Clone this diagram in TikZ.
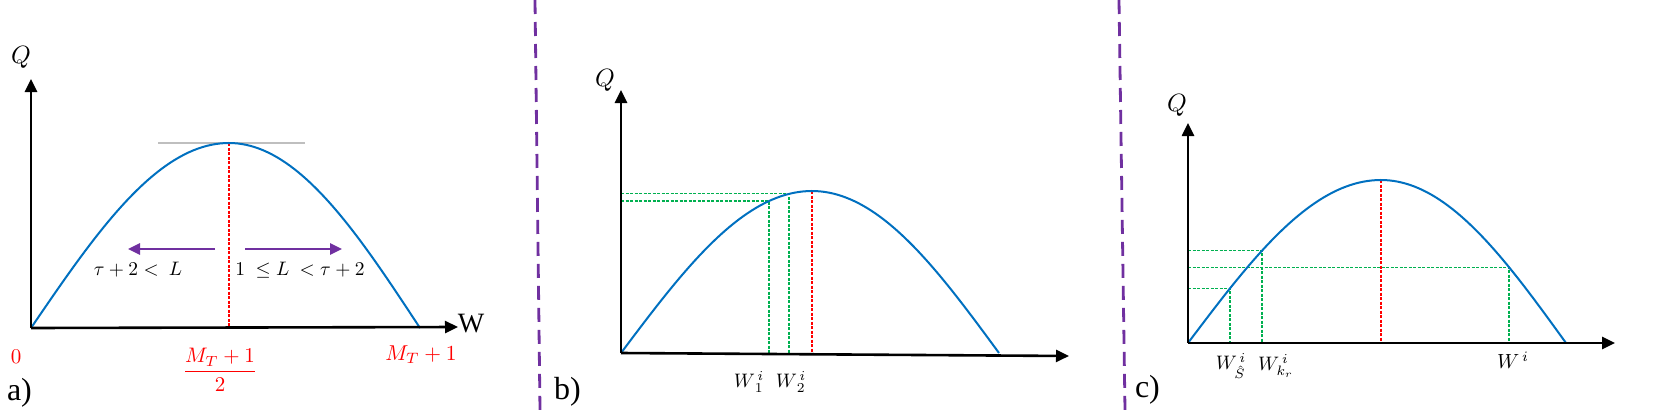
\documentclass[tikz,border=0pt]{standalone}
\usepackage{fontspec}
\setmainfont{Liberation Serif}
\usetikzlibrary{arrows.meta}
\definecolor{cblue}{HTML}{0070C0}
\definecolor{cpurple}{HTML}{7030A0}
\definecolor{cgreen}{HTML}{00B050}
\definecolor{cred}{HTML}{FF0000}
\definecolor{cgrey}{HTML}{BFBFBF}
\newcommand{\bigmath}[2]{\scalebox{#1}{$#2$}}
\tikzset{
  axisline/.style={line width=2.6pt, -{Triangle[length=13pt,width=12pt]}},
  curve/.style={cblue, line width=2pt},
  reddash/.style={cred, line width=1.3pt, dash pattern=on 3pt off 1.5pt},
  greendash/.style={cgreen, line width=1.1pt, dash pattern=on 3pt off 1.5pt},
  divider/.style={cpurple, line width=2.8pt, dash pattern=on 14pt off 8pt},
  parrow/.style={cpurple, line width=2.6pt, -{Triangle[length=12pt,width=11pt]}},
  tangent/.style={cgrey, line width=1.4pt},
  lbl/.style={inner sep=0pt, outer sep=0pt},
  redlbl/.style={lbl, text=cred},
  panellbl/.style={lbl, anchor=base west, font=\fontsize{32}{32}\selectfont},
}
\begin{document}
\begin{tikzpicture}[x=1pt,y=-1pt]
\useasboundingbox (0,0) rectangle (1660,410);

% dividers
\coordinate (d1t) at (535,0); \coordinate (d1b) at (540,410);
\coordinate (d2t) at (1119,0); \coordinate (d2b) at (1125,410);
\draw[divider] (d1t) -- (d1b);
\draw[divider] (d2t) -- (d2b);

% ---------------- panel a ----------------
\coordinate (oa) at (31,328);
\coordinate (ya) at (31,79);
\coordinate (xa) at (458,327);
\coordinate (pa) at (229,143);
\coordinate (pab) at (229,328);
\coordinate (tl) at (158,143); \coordinate (tr) at (305,143);
\draw[tangent] (tl) -- (tr);
\draw[reddash] (pa) -- (pab);
\draw[curve] plot[domain=0:90,samples=45] ({31+\x/90*198},{328-185*sin(\x)})
  -- plot[domain=90:180,samples=45] ({229+(\x-90)/90*191},{328-185*sin(\x)});
\draw[axisline] (oa) -- (ya);
\draw[axisline] (oa) -- (xa);
\coordinate (la0) at (215,249); \coordinate (la1) at (128,249);
\coordinate (ra0) at (245,249); \coordinate (ra1) at (342,249);
\draw[parrow] (la0) -- (la1);
\draw[parrow] (ra0) -- (ra1);
\node[lbl] (qa) at (21,57) {\bigmath{2.5}{Q}};
\node[lbl, font=\fontsize{28}{28}\selectfont] (wa) at (471,324) {W};
\node[lbl] (ta) at (138,270) {\bigmath{1.95}{\tau+2<\ L}};
\node[lbl] (tb) at (300,270) {\bigmath{1.95}{1\ \leq L\ <\tau+2}};
\node[redlbl] (zero) at (16,357) {\bigmath{2.1}{0}};
\node[redlbl] (half) at (220,370) {\bigmath{2.1}{\displaystyle\frac{M_T+1}{2}}};
\node[redlbl] (mt) at (421,355) {\bigmath{2.15}{M_T+1}};
\node[panellbl] (pla) at (7,400) {a)};

% ---------------- panel b ----------------
\coordinate (ob) at (621,353);
\coordinate (yb) at (621,90);
\coordinate (xb) at (1069,356);
\coordinate (pb) at (812,191);
\coordinate (pbb) at (812,354);
\coordinate (g1) at (769,{353-162*sin(148/191*90)});
\coordinate (g1y) at (621,{353-162*sin(148/191*90)});
\coordinate (g1x) at (769,354);
\coordinate (g2) at (789,{353-162*sin(168/191*90)});
\coordinate (g2y) at (621,{353-162*sin(168/191*90)});
\coordinate (g2x) at (789,354);
\draw[greendash] (g1y) -- (g1) -- (g1x);
\draw[greendash] (g2y) -- (g2) -- (g2x);
\draw[reddash] (pb) -- (pbb);
\draw[curve] plot[domain=0:90,samples=45] ({621+\x/90*191},{353-162*sin(\x)})
  -- plot[domain=90:180,samples=45] ({812+(\x-90)/90*187},{353-162*sin(\x)});
\draw[axisline] (ob) -- (yb);
\draw[axisline] (ob) -- (xb);
\node[lbl] (qb) at (605,80) {\bigmath{2.5}{Q}};
\node[lbl] (w1) at (749,382) {\bigmath{1.95}{W^{\,i}_{\,1}}};
\node[lbl] (w2) at (791,382) {\bigmath{1.95}{W^{\,i}_{\,2}}};
\node[panellbl] (plb) at (554,399) {b)};

% ---------------- panel c ----------------
\coordinate (oc) at (1188,343);
\coordinate (yc) at (1188,123);
\coordinate (xc) at (1615,343);
\coordinate (pc) at (1381,180);
\coordinate (pcb) at (1381,343);
\coordinate (h1) at (1230,{343-163*sin(42/193*90)});
\coordinate (h1y) at (1188,{343-163*sin(42/193*90)});
\coordinate (h1x) at (1230,343);
\coordinate (h2) at (1262,{343-163*sin(74/193*90)});
\coordinate (h2y) at (1188,{343-163*sin(74/193*90)});
\coordinate (h2x) at (1262,343);
\coordinate (h3) at (1509,{343-163*cos(128/185*90)});
\coordinate (h3y) at (1188,{343-163*cos(128/185*90)});
\coordinate (h3x) at (1509,343);
\draw[greendash] (h1y) -- (h1) -- (h1x);
\draw[greendash] (h2y) -- (h2) -- (h2x);
\draw[greendash] (h3y) -- (h3) -- (h3x);
\draw[reddash] (pc) -- (pcb);
\draw[curve] plot[domain=0:90,samples=45] ({1188+\x/90*193},{343-163*sin(\x)})
  -- plot[domain=90:180,samples=45] ({1381+(\x-90)/90*185},{343-163*sin(\x)});
\draw[axisline] (oc) -- (yc);
\draw[axisline] (oc) -- (xc);
\node[lbl] (qc) at (1177,105) {\bigmath{2.5}{Q}};
\node[lbl] (ws) at (1231,366) {\bigmath{1.95}{W^{\,i}_{\hat S}}};
\node[lbl] (wk) at (1276,366) {\bigmath{1.95}{W^{\,i}_{k_r}}};
\node[lbl] (wi) at (1513,360) {\bigmath{2.05}{W^{\,i}}};
\node[panellbl] (plc) at (1135,397) {c)};
\end{tikzpicture}
\end{document}
